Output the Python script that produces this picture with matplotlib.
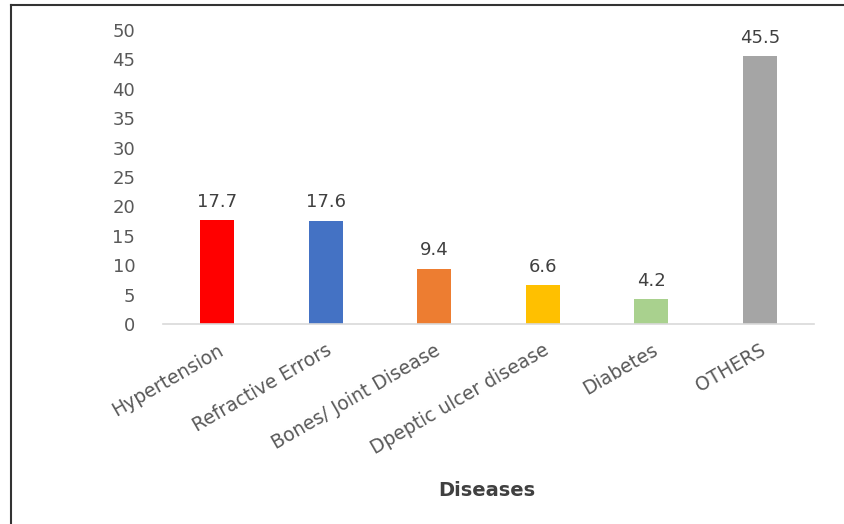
import matplotlib.pyplot as plt
from matplotlib.lines import Line2D

diseases = ['Hypertension', 'Refractive Errors', 'Bones/ Joint Disease',
            'Dpeptic ulcer disease', 'Diabetes', 'OTHERS']
percent = [17.7, 17.6, 9.4, 6.6, 4.2, 45.5]
colors = ['#ff0000', '#4472c4', '#ed7d31', '#ffc000', '#a9d18e', '#a5a5a5']
yticks = [0, 5, 10, 15, 20, 25, 30, 35, 40, 45, 50]

plt.rcParams['font.family'] = ['DejaVu Sans']
W, H = 844, 524
fig = plt.figure(figsize=(W / 100, H / 100), dpi=100)

# axes box in pixel coords: x 163..814, y 30 (50) .. 324 (0)
ax = fig.add_axes([163 / W, 1 - 324 / H, (814 - 163) / W, (324 - 30) / H])
x = range(len(diseases))
bars = ax.bar(x, percent, width=0.31, color=colors)
for b, v in zip(bars, percent):
    ax.text(b.get_x() + b.get_width() / 2, v + 1.6, f'{v}', ha='center', va='bottom',
            fontsize=13, color='#404040')

ax.set_xlim(-0.5, len(diseases) - 0.5)
ax.set_ylim(0, 50)
ax.set_yticks(yticks)
ax.set_xticks(list(x))
ax.set_xticklabels(diseases, rotation=30, ha='right', rotation_mode='anchor',
                   fontsize=13.5, color='#595959')
ax.tick_params(axis='y', length=0, pad=20, labelsize=13, labelcolor='#595959')
ax.tick_params(axis='x', length=0, pad=12)
for s in ['top', 'right', 'left']:
    ax.spines[s].set_visible(False)
ax.spines['bottom'].set_color('#d9d9d9')
ax.spines['bottom'].set_linewidth(1.2)

fig.text(487 / W, 1 - 491 / H, 'Diseases', ha='center', va='center',
         fontsize=14, fontweight='bold', color='#404040')

# outer frame (left and top edges)
fig.add_artist(Line2D([11 / W, 11 / W], [0, 1 - 5 / H], transform=fig.transFigure,
                      color='#333333', lw=1.5))
fig.add_artist(Line2D([11 / W, 1], [1 - 5 / H, 1 - 5 / H], transform=fig.transFigure,
                      color='#333333', lw=1.5))

fig.savefig('out.png', dpi=100)
